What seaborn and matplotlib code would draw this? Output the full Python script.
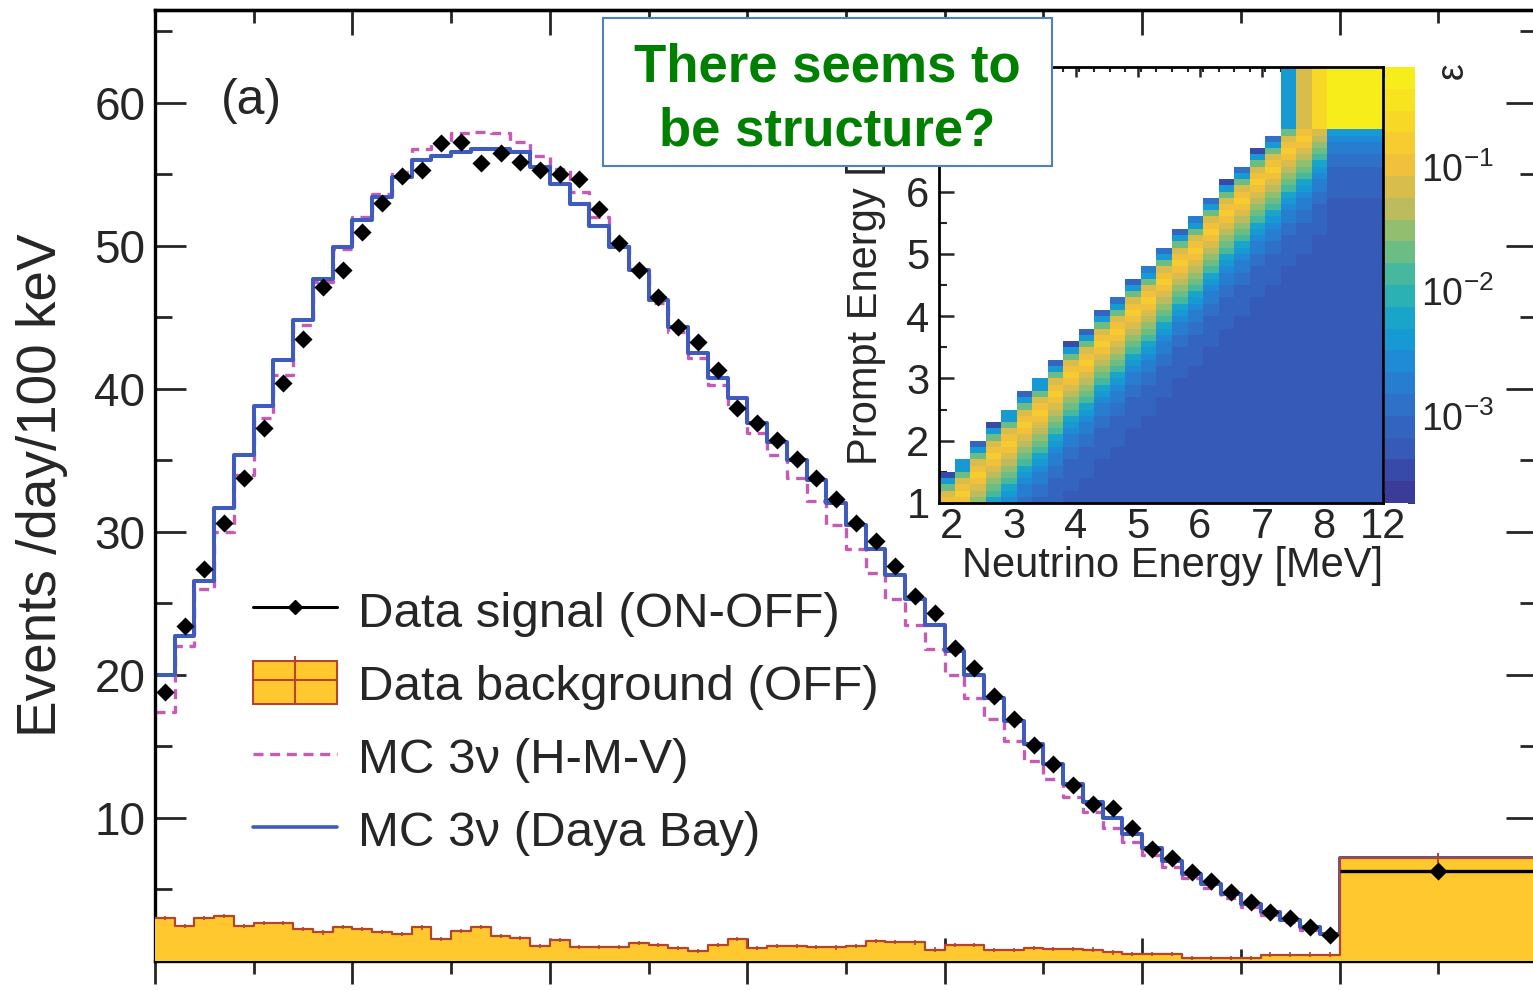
import numpy as np
import matplotlib
matplotlib.use("Agg")
import matplotlib.pyplot as plt
import seaborn as sns
import pandas as pd
from matplotlib.colors import LogNorm, LinearSegmentedColormap, ListedColormap
from matplotlib.patches import Rectangle, Patch
from matplotlib.lines import Line2D
from matplotlib.legend_handler import HandlerTuple
from matplotlib.ticker import MultipleLocator, FixedLocator, LogLocator, NullFormatter

# ---------------- main spectrum data (100 keV bins from 1 MeV) ----------------
prompt_edges = np.round(np.arange(1.0, 7.0001, 0.1), 2)
wide_lo, wide_hi = 7.0, 8.0          # last (wide) bin as drawn

signal = [18.8, 23.4, 27.4, 30.6, 33.8, 37.3, 40.4, 43.5, 47.1, 48.3,
          51.0, 53.0, 54.9, 55.3, 57.2, 57.3, 55.8, 56.5, 55.9, 55.3,
          55.0, 54.7, 52.6, 50.2, 48.3, 46.4, 44.3, 43.3, 41.3, 38.7,
          37.6, 36.4, 35.1, 33.8, 32.3, 30.6, 29.4, 27.6, 25.5, 24.3,
          21.9, 20.5, 18.5, 16.9, 15.1, 13.8, 12.3, 11.0, 10.7, 9.3,
          7.8, 7.2, 6.2, 5.6, 4.8, 4.1, 3.4, 3.0, 2.4, 1.8]
signal_wide = 6.3

background = [3.0, 2.45, 3.0, 3.15, 2.45, 2.65, 2.65, 2.25, 2.0, 2.4,
              2.25, 2.05, 1.9, 2.35, 1.55, 2.1, 2.4, 1.75, 1.6, 1.05,
              1.45, 1.0, 1.0, 1.0, 1.25, 1.1, 0.9, 0.7, 1.1, 1.55,
              0.9, 1.05, 1.05, 1.0, 0.95, 1.05, 1.4, 1.35, 1.3, 0.8,
              1.1, 1.1, 0.75, 0.75, 0.9, 0.85, 0.85, 0.8, 0.6, 0.5,
              0.5, 0.5, 0.2, 0.2, 0.2, 0.2, 0.45, 0.45, 0.45, 0.45]
background_wide = 7.2
bkg_err = 0.15
bkg_err_wide = 0.35

mc_hmv = [17.4, 22.0, 26.0, 30.0, 34.0, 38.0, 41.0, 44.5, 47.5, 49.8,
          52.0, 53.6, 55.2, 56.8, 57.3, 57.9, 58.0, 57.9, 57.3, 56.3,
          55.4, 53.8, 52.0, 50.0, 48.2, 46.0, 44.0, 42.2, 40.3, 38.6,
          36.9, 35.4, 33.8, 32.2, 30.5, 28.8, 27.1, 25.3, 23.5, 21.8,
          20.0, 18.4, 16.9, 15.4, 14.0, 12.7, 11.5, 10.4, 9.3, 8.3,
          7.4, 6.6, 5.8, 5.1, 4.4, 3.8, 3.2, 2.7, 2.2, 1.8]
mc_hmv_wide = 7.0

mc_dyb = [20.0, 22.7, 26.6, 31.7, 35.4, 38.8, 42.0, 44.8, 47.7, 49.9,
          51.8, 53.4, 54.8, 56.0, 56.3, 56.6, 56.8, 56.8, 56.6, 55.5,
          54.3, 52.9, 51.4, 49.9, 48.3, 46.2, 44.3, 42.5, 40.8, 39.4,
          37.6, 36.3, 35.0, 33.6, 32.0, 30.5, 28.8, 27.0, 25.3, 23.5,
          21.7, 20.0, 18.4, 16.8, 15.2, 13.8, 12.4, 11.1, 10.0, 8.9,
          7.9, 7.0, 6.1, 5.4, 4.7, 4.0, 3.4, 2.9, 2.4, 1.9]
mc_dyb_wide = 7.2

ylabel_text = "Events /day/100 keV"
legend_labels = ["Data signal (ON-OFF)", "Data background (OFF)",
                 "MC 3\u03bd (H-M-V)", "MC 3\u03bd (Daya Bay)"]
ytick_vals = [10, 20, 30, 40, 50, 60]
panel_label = "(a)"
note_lines = ["There seems to", "be structure?"]

# ---------------- inset response matrix ----------------
nu_edges = list(np.round(np.arange(1.8, 8.0501, 0.25), 2)) + [12.0]
nu_tick_vals = [2, 3, 4, 5, 6, 7, 8, 12]
prompt_tick_vals = [1, 2, 3, 4, 5, 6]
inset_xlabel = "Neutrino Energy [MeV]"
inset_ylabel = "Prompt Energy [MeV]"
cbar_label = "\u03b5"
# highest filled prompt row (100 keV rows) for each neutrino column
top_row = [4, 6, 9, 12, 14, 17, 19, 22, 25, 27, 30, 32, 35, 37, 40, 43, 45,
           48, 51, 53, 56, 58, 61, 63, 66, 72]
# value in that top (edge) cell
top_val = [3e-4, 4e-3, 1e-3, 3e-4, 4e-3, 1e-3, 4e-3, 1e-3, 3e-4, 1e-3, 1e-3,
           1.5e-3, 1e-3, 2e-3, 1.5e-3, 1e-3, 2e-3, 1.5e-3, 3e-4, 1.5e-3, 3e-4,
           1.5e-3, 1e-3, 1e-3, 1e-3, 1e-3]
# values going down from the top edge of each column
profile = [8e-4, 5e-3, 0.02, 0.08, 0.12, 0.13, 0.11, 0.08, 0.055, 0.035,
           0.02, 0.012, 0.007, 0.0045, 0.003, 0.0022, 0.0017, 0.0014, 0.0012,
           0.001, 0.0009, 0.0008, 0.00075, 0.0007, 0.00065, 0.0006, 0.00058,
           0.00055, 0.00052, 0.0005]
tail_val = 4.5e-4
# wide prompt row (7-10 MeV)
wide_row = [np.nan] * 22 + [5e-3, 0.07, 0.25, 0.45]
eps_min, eps_max = 2e-4, 0.64

# ---------------- styling ----------------
W, H = 1533, 990
sns.set_theme(style="ticks")
plt.rcParams["font.family"] = ["Liberation Sans", "DejaVu Sans"]
plt.rcParams["mathtext.fontset"] = "custom"
plt.rcParams["mathtext.rm"] = "Liberation Sans"
plt.rcParams["mathtext.it"] = "Liberation Sans:italic"
plt.rcParams["mathtext.bf"] = "Liberation Sans:bold"

fill_col = "#FFC82E"
edge_col = "#B2452B"
hmv_col = "#C65BB6"
dyb_col = "#3F5BBE"

fig = plt.figure(figsize=(W / 100, H / 100), dpi=100)
fig.patch.set_facecolor("white")

ax = fig.add_axes([155 / W, (H - 961) / H, (1537 - 155) / W, (961 - 10) / H])

edges = np.r_[prompt_edges, wide_hi]
centers = np.r_[(prompt_edges[:-1] + prompt_edges[1:]) / 2]

def step_df(vals, wide):
    v = list(vals) + [wide]
    return pd.DataFrame({"x": edges, "y": v + [v[-1]]})

# MC curves
sns.lineplot(data=step_df(mc_hmv, mc_hmv_wide), x="x", y="y", ax=ax,
             drawstyle="steps-post", color=hmv_col, linewidth=2.4,
             linestyle=(0, (3, 2)), errorbar=None, sort=False, legend=False, zorder=2)
sns.lineplot(data=step_df(mc_dyb, mc_dyb_wide), x="x", y="y", ax=ax,
             drawstyle="steps-post", color=dyb_col, linewidth=2.9,
             errorbar=None, sort=False, legend=False, zorder=2.1)

# background histogram
bdf = step_df(background, background_wide)
ax.fill_between(bdf["x"], bdf["y"], step="post", color=fill_col, lw=0, zorder=3)
ax.step(bdf["x"], bdf["y"], where="post", color=edge_col, lw=1.6, zorder=3.1)
ax.errorbar(centers, background, yerr=bkg_err, fmt="none", ecolor=edge_col,
            elinewidth=1.2, zorder=3.2)
ax.errorbar([(wide_lo + wide_hi) / 2], [background_wide], yerr=bkg_err_wide,
            fmt="none", ecolor=edge_col, elinewidth=1.4, zorder=3.2)

# data signal
sdf = pd.DataFrame({"x": centers, "y": signal})
sns.scatterplot(data=sdf, x="x", y="y", ax=ax, marker="D", s=85, color="black",
                linewidth=0, zorder=5, legend=False)
ax.hlines(signal_wide, wide_lo, wide_hi, color="black", lw=2.4, zorder=5)
sns.scatterplot(x=[(wide_lo + wide_hi) / 2], y=[signal_wide], ax=ax, marker="D",
                s=85, color="black", linewidth=0, zorder=5.1, legend=False)

ax.set_xlim(1.0, 8.0)
ax.set_ylim(0, 66.5)
ax.set_xlabel("")
ax.set_ylabel(ylabel_text, fontsize=39.5)
ax.yaxis.set_label_coords(-0.063, 0.5)
ax.set_yticks(ytick_vals)
ax.yaxis.set_minor_locator(FixedLocator([5, 15, 25, 35, 45, 55, 65]))
ax.xaxis.set_major_locator(MultipleLocator(1.0))
ax.xaxis.set_minor_locator(MultipleLocator(0.5))
ax.tick_params(axis="x", which="major", direction="inout", length=33, width=2.0,
               labelbottom=False)
ax.tick_params(axis="x", which="minor", direction="inout", length=18, width=2.0)
ax.tick_params(axis="y", which="major", direction="in", length=22, width=2.0,
               left=True, right=True, labelsize=33, pad=7)
ax.tick_params(axis="y", which="minor", direction="in", length=12, width=2.0,
               left=True, right=True)
for s in ax.spines.values():
    s.set_linewidth(2.4)
    s.set_color("black")

sec = ax.secondary_xaxis("top")
sec.xaxis.set_major_locator(MultipleLocator(1.0))
sec.xaxis.set_minor_locator(MultipleLocator(0.5))
sec.tick_params(which="major", direction="in", length=18, width=2.0, labeltop=False)
sec.tick_params(which="minor", direction="in", length=9.5, width=2.0)
sec.spines["top"].set_linewidth(2.4)

ax.text((251 - 155) / 1382, (961 - 101) / 951, panel_label, transform=ax.transAxes,
        fontsize=36, ha="center", va="center")

# legend
h_sig = Line2D([], [], color="black", lw=2.2, marker="D", markersize=7.5)
h_bkg = (Patch(facecolor=fill_col, edgecolor=edge_col, lw=1.5),
         Line2D([], [], color=edge_col, lw=1.5, marker="|", markersize=34,
                markeredgewidth=1.5))
h_hmv = Line2D([], [], color=hmv_col, lw=2.4, linestyle=(0, (3, 2)))
h_dyb = Line2D([], [], color=dyb_col, lw=2.6)
ax.legend([h_sig, h_bkg, h_hmv, h_dyb], legend_labels,
          handler_map={tuple: HandlerTuple(ndivide=1, pad=0)},
          loc="upper left", bbox_to_anchor=(253 / W, (H - 588) / H),
          bbox_transform=fig.transFigure, frameon=False, fontsize=35.5,
          handlelength=1.7, handleheight=0.97, handletextpad=0.43,
          labelspacing=0.5, borderpad=0, borderaxespad=0)

# ---------------- inset ----------------
def nu_disp(e):
    return e if e <= 8.05 else 8.05 + (e - 8.05) * 0.9 / 3.95

xe = np.array([nu_disp(e) for e in nu_edges])
ye = np.r_[prompt_edges, 8.0]
n_cols = len(nu_edges) - 1
n_rows = len(ye) - 1
M = np.full((n_rows, n_cols), np.nan)
for c in range(n_cols):
    for r in range(n_rows - 1):
        if r == top_row[c]:
            M[r, c] = top_val[c]
        elif r < top_row[c]:
            d = top_row[c] - r
            M[r, c] = profile[d] if d < len(profile) else tail_val
    M[-1, c] = wide_row[c]

# colour stops resembling the ROOT "bird" palette as rendered in the figure
stops = [(0.23, 0.23, 0.60), (0.21, 0.35, 0.72), (0.19, 0.43, 0.78),
         (0.13, 0.53, 0.84), (0.07, 0.63, 0.82), (0.20, 0.71, 0.66),
         (0.48, 0.75, 0.48), (0.78, 0.73, 0.35), (0.96, 0.76, 0.22),
         (0.97, 0.85, 0.15), (0.97, 0.93, 0.10)]
base = LinearSegmentedColormap.from_list("bird", stops)
cmap = ListedColormap(base(np.linspace(0, 1, 20)))
norm = LogNorm(vmin=eps_min, vmax=eps_max)

ax_in = fig.add_axes([939.3 / W, (H - 503) / H, (1383 - 939.3) / W, (503 - 67) / H])
ax_in.set_facecolor("white")
mesh = ax_in.pcolormesh(xe, ye, np.ma.masked_invalid(M), cmap=cmap, norm=norm,
                        shading="flat")
ax_in.set_xlim(1.8, nu_disp(12.0))
ax_in.set_ylim(1.0, 8.0)
ax_in.set_xticks([nu_disp(v) for v in nu_tick_vals])
ax_in.set_xticklabels([str(v) for v in nu_tick_vals])
minors = [v for v in np.arange(2.05, 8.0, 0.25)] + [8.475]
ax_in.xaxis.set_minor_locator(FixedLocator(minors))
ax_in.set_yticks(prompt_tick_vals)
ax_in.yaxis.set_minor_locator(FixedLocator([1.5, 2.5, 3.5, 4.5, 5.5, 6.5, 7.0, 7.5]))
ax_in.tick_params(axis="x", which="major", direction="in", length=7, width=1.8,
                  top=True, labelsize=30, pad=3)
ax_in.tick_params(axis="x", which="minor", direction="in", length=3.5, width=1.5, top=True)
ax_in.tick_params(axis="y", which="major", direction="in", length=11, width=1.8,
                  labelsize=30, pad=7)
ax_in.tick_params(axis="y", which="minor", direction="in", length=6, width=1.5)
for s in ax_in.spines.values():
    s.set_linewidth(2.0)
    s.set_color("black")
ax_in.set_xlabel(inset_xlabel, fontsize=30, loc="right")
ax_in.xaxis.set_label_coords(1.0, -0.098)
ax_in.set_ylabel(inset_ylabel, fontsize=30, loc="top")
ax_in.yaxis.set_label_coords(-0.12, 1.0)

cax = fig.add_axes([1385 / W, (H - 503) / H, 30 / W, 436 / H])
cbar = fig.colorbar(mesh, cax=cax)
cbar.outline.set_visible(False)
cax.yaxis.set_major_locator(LogLocator(base=10))
cax.yaxis.set_minor_locator(LogLocator(base=10, subs=np.arange(2, 10)))
cax.yaxis.set_minor_formatter(NullFormatter())
cax.tick_params(which="major", direction="in", length=10, width=1.6, labelsize=27, pad=4)
cax.tick_params(which="minor", direction="in", length=5, width=1.3)
cax.text(2.25, 1.01, cbar_label, transform=cax.transAxes, rotation=90,
         ha="center", va="top", fontsize=27)

# ---------------- annotation box ----------------
fig.patches.append(Rectangle((603 / W, (H - 166) / H), 449 / W, 148 / H,
                             transform=fig.transFigure, facecolor="white",
                             edgecolor="#4F81BD", lw=1.5, zorder=10))
fig.text(827 / W, (H - 81) / H, note_lines[0], ha="center", va="baseline",
         fontsize=38, fontweight="bold", color="#008000", zorder=11)
fig.text(827 / W, (H - 145) / H, note_lines[1], ha="center", va="baseline",
         fontsize=38, fontweight="bold", color="#008000", zorder=11)

fig.savefig("out.png", dpi=100)
